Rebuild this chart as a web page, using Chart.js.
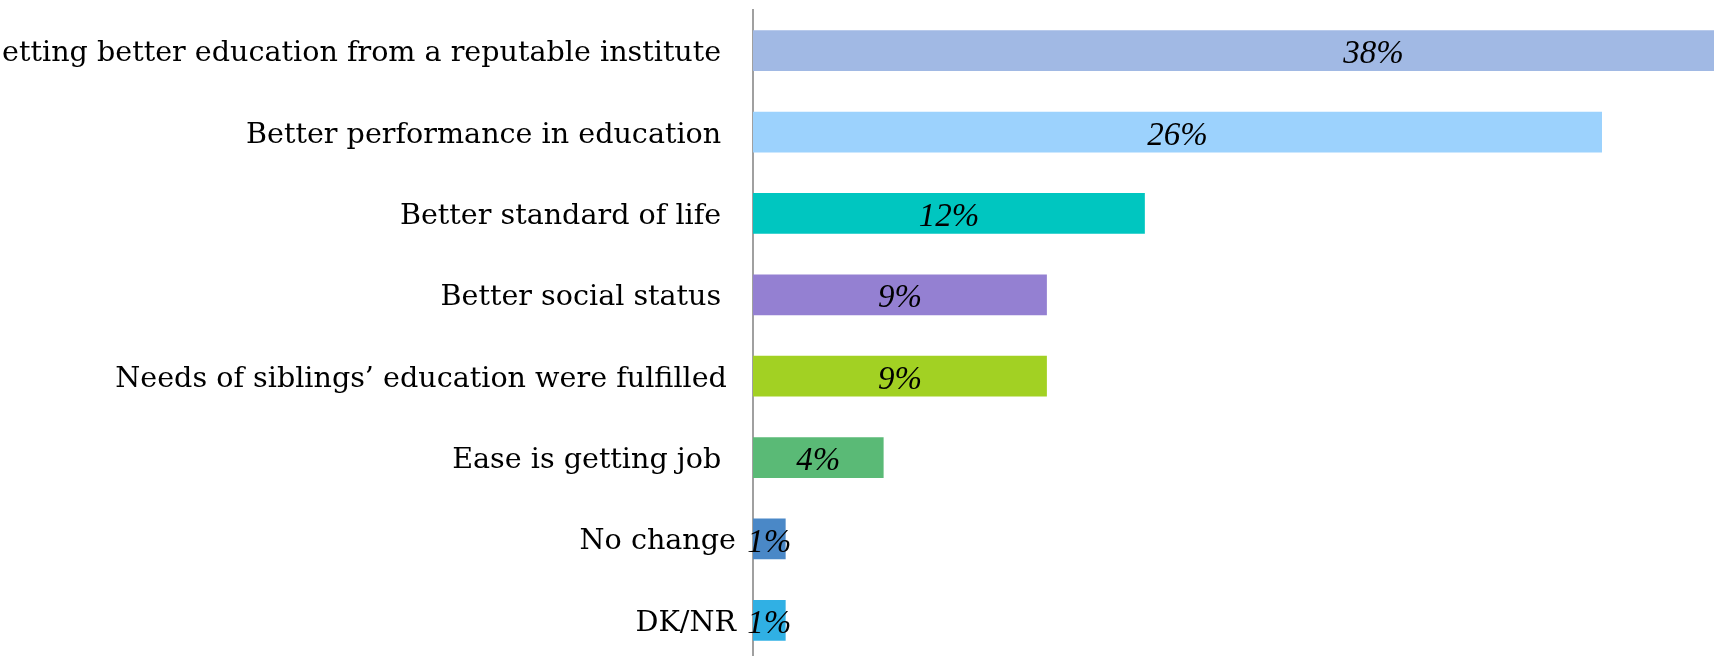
<!DOCTYPE html>
<html>
<head>
<meta charset="utf-8">
<script src="https://cdn.jsdelivr.net/npm/chart.js@4/dist/chart.umd.min.js"></script>
<style>
  html, body { margin: 0; padding: 0; background: #fff; overflow: hidden; }
  #wrap { width: 1714px; height: 661px; }
</style>
</head>
<body>
<div id="wrap"><canvas id="chart" width="1714" height="661"></canvas></div>
<script>
// Reasons reported for the improvement (share of respondents, %)
const categories = [
  'Getting better education from a reputable institute \u2009',
  'Better performance in education \u2009',
  'Better standard of life \u2009',
  'Better social status \u2009',
  'Needs of siblings\u2019 education were fulfilled ',
  'Ease is getting job \u2009',
  'No change',
  'DK/NR'
];
const shares = [38, 26, 12, 9, 9, 4, 1, 1];
const valueLabels = ['38%', '26%', '12%', '9%', '9%', '4%', '1%', '1%'];
const barColors = ['#A1B9E4', '#9CD2FD', '#00C6C0', '#9480D2', '#A2D123', '#5ABA76', '#4A88C7', '#30B0E4'];

// Writes each share in the middle of its (full-length) bar
const barValueText = {
  id: 'barValueText',
  afterDatasetsDraw(chart) {
    const ctx = chart.ctx;
    const meta = chart.getDatasetMeta(0);
    ctx.save();
    ctx.fillStyle = '#000';
    ctx.font = 'italic 33px "Liberation Serif", serif';
    ctx.textAlign = 'center';
    ctx.textBaseline = 'middle';
    meta.data.forEach((bar, i) => {
      const { x, y, base } = bar.getProps(['x', 'y', 'base'], true);
      ctx.fillText(valueLabels[i], (x + base) / 2, y + 4);
    });
    ctx.restore();
  }
};

new Chart(document.getElementById('chart'), {
  type: 'bar',
  data: {
    labels: categories,
    datasets: [{
      data: shares,
      backgroundColor: barColors,
      borderWidth: 0,
      barPercentage: 0.5,
      categoryPercentage: 1.0
    }]
  },
  options: {
    indexAxis: 'y',
    responsive: false,
    animation: false,
    devicePixelRatio: 1,
    layout: { padding: { top: 10, right: 0, bottom: 0, left: 0 } },
    plugins: {
      legend: { display: false },
      tooltip: { enabled: false }
    },
    scales: {
      x: {
        display: false,
        min: 0,
        max: 29.43
      },
      y: {
        afterFit(scale) {
          // fixed-width label column; category labels need no extra top/bottom room
          scale.width = 753;
          scale.paddingTop = 0;
          scale.paddingBottom = 0;
        },
        grid: { display: false, drawTicks: false },
        border: { display: true, color: '#A0A0A0', width: 2 },
        ticks: {
          padding: 17,
          labelOffset: 3,
          color: '#000',
          font: { family: '"DejaVu Serif", serif', size: 28.6 }
        }
      }
    }
  },
  plugins: [barValueText]
});
</script>
</body>
</html>
